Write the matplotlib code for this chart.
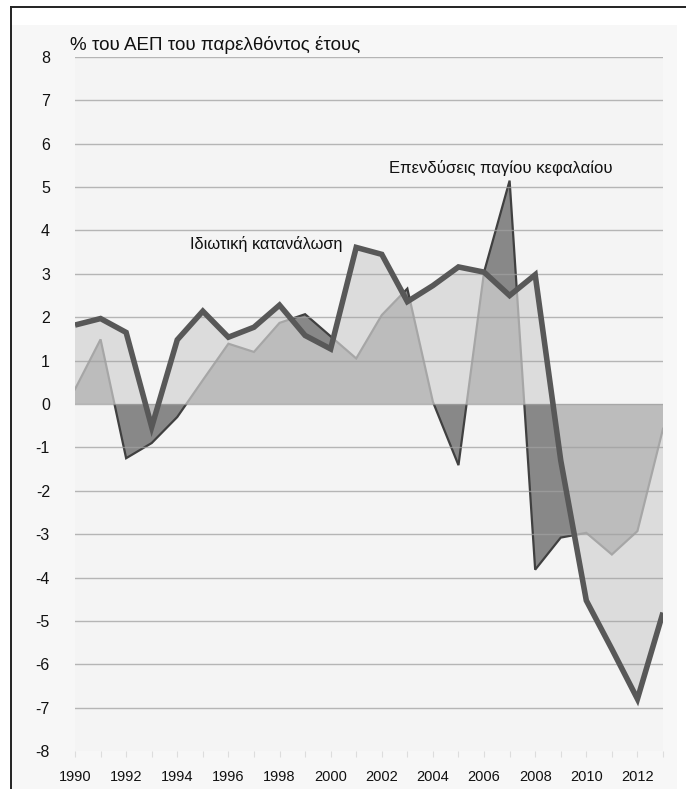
import matplotlib
matplotlib.use("Agg")
import matplotlib.pyplot as plt
from matplotlib.lines import Line2D
from matplotlib.patches import Rectangle

years = list(range(1990, 2014))
consumption = [1.82, 1.97, 1.65, -0.53, 1.48, 2.14, 1.54, 1.77, 2.28, 1.58, 1.27,
               3.61, 3.45, 2.36, 2.73, 3.16, 3.04, 2.50, 2.98, -1.30, -4.53,
               -5.65, -6.80, -4.81]
investment = [0.34, 1.49, -1.25, -0.90, -0.30, 0.55, 1.39, 1.20, 1.87, 2.07, 1.56,
              1.05, 2.05, 2.66, 0.05, -1.41, 3.04, 5.15, -3.82, -3.08, -2.97,
              -3.47, -2.93, -0.57]
yticks = list(range(-8, 9))
xtick_years = list(range(1990, 2013, 2))
ylabel_text = "% του ΑΕΠ του παρελθόντος έτους"
label_cons = "Ιδιωτική κατανάλωση"
label_inv = "Επενδύσεις παγίου κεφαλαίου"

plt.rcParams['font.family'] = ['Liberation Sans', 'DejaVu Sans']

W, H = 686, 789
fig = plt.figure(figsize=(W / 100, H / 100), dpi=100)
fig.patch.set_facecolor('white')

# outer panel and frame
fig.patches.append(Rectangle((11 / W, 0), (677 - 11) / W, 1 - 25 / H,
                             transform=fig.transFigure, facecolor='#f7f7f7',
                             edgecolor='none', zorder=-10))
fig.lines.append(Line2D([11 / W, 1], [1 - 6.5 / H, 1 - 6.5 / H], transform=fig.transFigure,
                        color='#222222', lw=1.4, zorder=-5))
fig.lines.append(Line2D([11 / W, 11 / W], [0, 1 - 6.5 / H], transform=fig.transFigure,
                        color='#222222', lw=1.4, zorder=-5))

ax = fig.add_axes([75 / W, 1 - 751 / H, (663 - 75) / W, (751 - 57) / H])
ax.set_zorder(1)
ax.set_facecolor('#f4f4f4')
ax.set_xlim(1990, 2013)
ax.set_ylim(-8, 8)

# areas
ax.fill_between(years, 0, investment, facecolor='#888888', edgecolor='none',
                linewidth=0, zorder=2)
ax.plot(years, investment, color='#404040', lw=1.6, zorder=2.5,
        solid_joinstyle='miter')
ax.fill_between(years, 0, consumption, facecolor='#d3d3d3', alpha=0.7,
                edgecolor='none', linewidth=0, zorder=3)

# grid
for y in yticks:
    if y == -8:
        continue
    ax.axhline(y, color='#a0a0a0', lw=1.0, alpha=0.75, zorder=3.5)

ax.plot(years, consumption, color='#585858', lw=4.0, zorder=4,
        solid_joinstyle='miter', solid_capstyle='butt')

for s in ax.spines.values():
    s.set_visible(False)

ax.set_yticks(yticks)
ax.set_yticklabels([str(v) for v in yticks])
ax.tick_params(axis='y', length=0, pad=18, labelsize=11.5, labelcolor='#111111')
for lab in ax.get_yticklabels():
    lab.set_horizontalalignment('right')

ax.set_xticks(years, minor=True)
ax.set_xticks(xtick_years)
ax.set_xticklabels([str(v) for v in xtick_years])
ax.tick_params(axis='x', which='both', direction='out', length=4, width=0.8,
               color='#dddddd', labelsize=10.5, labelcolor='#111111', pad=10)

fig.text(70 / W, 1 - 45 / H, ylabel_text, fontsize=13.5, color='#111111',
         ha='left', va='center')
ax.text(1997.47, 3.69, label_cons, fontsize=11.8, color='#111111',
        ha='center', va='center', zorder=5)
ax.text(2006.67, 5.44, label_inv, fontsize=12, color='#111111',
        ha='center', va='center', zorder=5)

fig.savefig('out.png', dpi=100, facecolor=fig.get_facecolor())
